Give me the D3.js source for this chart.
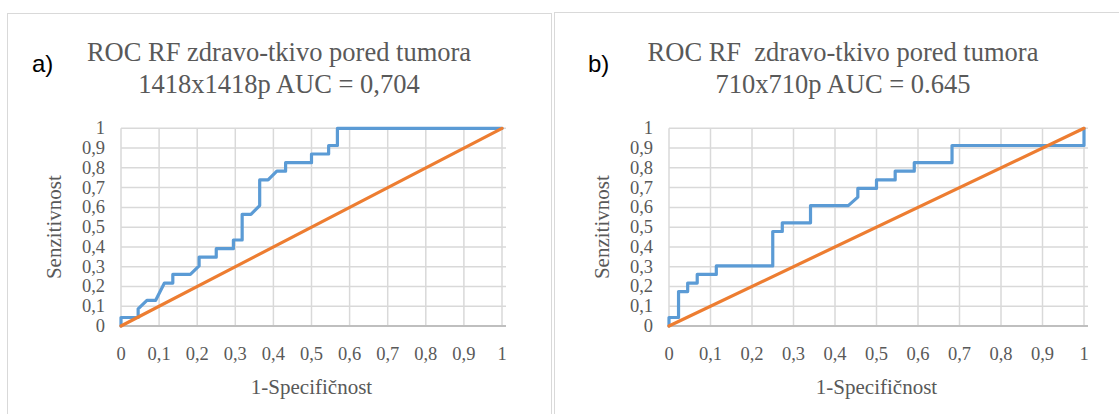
<!DOCTYPE html>
<html>
<head>
<meta charset="utf-8">
<script src="https://cdn.jsdelivr.net/npm/d3@7"></script>
<style>
  html, body { margin: 0; padding: 0; background: #ffffff; }
  svg { display: block; }
  text { white-space: pre; }
</style>
</head>
<body>
<svg id="chart" width="1119" height="414"></svg>
<script>
// ---------- data ----------
const tickValues = [0, 0.1, 0.2, 0.3, 0.4, 0.5, 0.6, 0.7, 0.8, 0.9, 1];
const tickLabels = ["0", "0,1", "0,2", "0,3", "0,4", "0,5", "0,6", "0,7", "0,8", "0,9", "1"];

const panelLetters = ["a)", "b)"];
const titleLine1 = ["ROC RF zdravo-tkivo pored tumora", "ROC RF  zdravo-tkivo pored tumora"];
const titleLine2 = ["1418x1418p AUC = 0,704", "710x710p AUC = 0.645"];
const xAxisTitle = "1-Specifičnost";
const yAxisTitle = "Senzitivnost";

// ROC a) (1 - specificity, sensitivity)
const rocA_fpr = [0, 0, 0.045, 0.045, 0.068, 0.091, 0.114, 0.136, 0.136, 0.182, 0.205, 0.205, 0.25, 0.25, 0.295, 0.295, 0.318, 0.318, 0.341, 0.364, 0.364, 0.386, 0.409, 0.432, 0.432, 0.5, 0.5, 0.545, 0.545, 0.568, 0.568, 1];
const rocA_tpr = [0, 0.043, 0.043, 0.087, 0.13, 0.13, 0.217, 0.217, 0.261, 0.261, 0.304, 0.348, 0.348, 0.391, 0.391, 0.435, 0.435, 0.565, 0.565, 0.609, 0.739, 0.739, 0.783, 0.783, 0.826, 0.826, 0.87, 0.87, 0.913, 0.913, 1, 1];

// ROC b)
const rocB_fpr = [0, 0, 0.023, 0.023, 0.045, 0.045, 0.068, 0.068, 0.114, 0.114, 0.25, 0.25, 0.273, 0.273, 0.341, 0.341, 0.432, 0.455, 0.455, 0.5, 0.5, 0.545, 0.545, 0.591, 0.591, 0.682, 0.682, 1, 1];
const rocB_tpr = [0, 0.043, 0.043, 0.174, 0.174, 0.217, 0.217, 0.261, 0.261, 0.304, 0.304, 0.478, 0.478, 0.522, 0.522, 0.609, 0.609, 0.652, 0.696, 0.696, 0.739, 0.739, 0.783, 0.783, 0.826, 0.826, 0.913, 0.913, 1];

// reference (chance) line
const diag_fpr = [0, 1];
const diag_tpr = [0, 1];

// ---------- layout ----------
const svg = d3.select("#chart");
svg.append("rect").attr("width", 1119).attr("height", 414).attr("fill", "#ffffff");

const panels = [
  { frame: [7.5, 13.5, 544, 440], plot: [121, 502], centerX: 279, letterX: 32, yTitleX: 61,
    fpr: rocA_fpr, tpr: rocA_tpr },
  { frame: [554.5, 12.5, 620, 440], plot: [669, 1084], centerX: 843, letterX: 588, yTitleX: 609,
    fpr: rocB_fpr, tpr: rocB_tpr }
];
const plotTop = 128.3, plotBottom = 326;
const serif = "'Liberation Serif', 'Times New Roman', serif";
const textCol = "#595959";

panels.forEach((p, i) => {
  const g = svg.append("g");
  g.append("rect")
    .attr("x", p.frame[0]).attr("y", p.frame[1])
    .attr("width", p.frame[2]).attr("height", p.frame[3])
    .attr("fill", "none").attr("stroke", "#d9d9d9").attr("stroke-width", 1);

  const x = d3.scaleLinear().domain([0, 1]).range(p.plot);
  const y = d3.scaleLinear().domain([0, 1]).range([plotBottom, plotTop]);

  // gridlines
  g.append("g").selectAll("line.v").data(tickValues).join("line")
    .attr("x1", d => x(d)).attr("x2", d => x(d))
    .attr("y1", y(0)).attr("y2", y(1))
    .attr("stroke", "#d9d9d9").attr("stroke-width", 1.5);
  g.append("g").selectAll("line.h").data(tickValues.slice(1)).join("line")
    .attr("x1", x(0)).attr("x2", x(1) + 4)
    .attr("y1", d => y(d)).attr("y2", d => y(d))
    .attr("stroke", "#d9d9d9").attr("stroke-width", 1.5);
  // x axis line
  g.append("line")
    .attr("x1", x(0)).attr("x2", x(1) + 4)
    .attr("y1", y(0)).attr("y2", y(0))
    .attr("stroke", "#bfbfbf").attr("stroke-width", 1.8);

  // tick labels
  g.append("g").selectAll("text").data(tickValues).join("text")
    .attr("x", d => x(d)).attr("y", 360)
    .attr("text-anchor", "middle")
    .attr("font-family", serif).attr("font-size", 18.5).attr("fill", textCol)
    .text((d, j) => tickLabels[j]);
  g.append("g").selectAll("text").data(tickValues).join("text")
    .attr("x", x(0) - 16).attr("y", d => y(d) + 6)
    .attr("text-anchor", "end")
    .attr("font-family", serif).attr("font-size", 18.5).attr("fill", textCol)
    .text((d, j) => tickLabels[j]);

  // axis titles
  g.append("text")
    .attr("x", (p.plot[0] + p.plot[1]) / 2).attr("y", 394)
    .attr("text-anchor", "middle")
    .attr("font-family", serif).attr("font-size", 21).attr("fill", textCol)
    .text(xAxisTitle);
  g.append("text")
    .attr("transform", `translate(${p.yTitleX},${(plotTop + plotBottom) / 2}) rotate(-90)`)
    .attr("text-anchor", "middle")
    .attr("font-family", serif).attr("font-size", 21).attr("fill", textCol)
    .text(yAxisTitle);

  // chart title
  g.append("text")
    .attr("x", p.centerX).attr("y", 61)
    .attr("text-anchor", "middle")
    .attr("font-family", serif).attr("font-size", 26.5).attr("fill", textCol)
    .text(titleLine1[i]);
  g.append("text")
    .attr("x", p.centerX).attr("y", 93)
    .attr("text-anchor", "middle")
    .attr("font-family", serif).attr("font-size", 26.5).attr("fill", textCol)
    .text(titleLine2[i]);

  // panel letter
  g.append("text")
    .attr("x", p.letterX).attr("y", 72)
    .attr("font-family", "'Liberation Sans', Arial, sans-serif").attr("font-size", 24).attr("fill", "#000000")
    .text(panelLetters[i]);

  // lines
  const line = d3.line().x(d => x(d[0])).y(d => y(d[1]));
  const roc = p.fpr.map((v, k) => [v, p.tpr[k]]);
  const diag = diag_fpr.map((v, k) => [v, diag_tpr[k]]);
  g.append("path").datum(roc).attr("d", line)
    .attr("fill", "none").attr("stroke", "#5b9bd5").attr("stroke-width", 3.2)
    .attr("stroke-linejoin", "round").attr("stroke-linecap", "round");
  g.append("path").datum(diag).attr("d", line)
    .attr("fill", "none").attr("stroke", "#ed7d31").attr("stroke-width", 3.2)
    .attr("stroke-linecap", "round");
});
</script>
</body>
</html>
